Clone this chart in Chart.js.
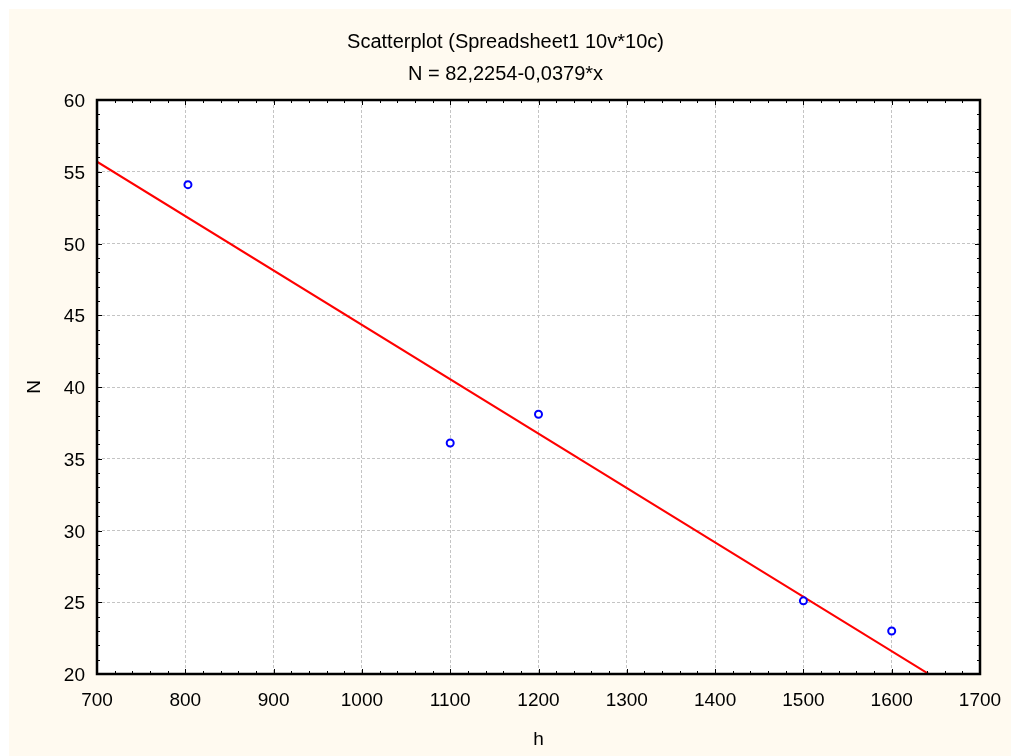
<!DOCTYPE html>
<html>
<head>
<meta charset="utf-8">
<script src="https://cdn.jsdelivr.net/npm/chart.js@4/dist/chart.umd.min.js"></script>
<style>
  html, body { margin: 0; padding: 0; background: #ffffff; }
  #wrap { width: 1011px; height: 756px; }
</style>
</head>
<body>
<div id="wrap"><canvas id="plot" width="1011" height="756"></canvas></div>
<script>
// values
const hValues = [803, 1100, 1200, 1500, 1600];
const nValues = [54.1, 36.1, 38.1, 25.1, 23.0];

// fitted line N = 82,2254-0,0379*x, ends at the x range
const fitH = [700, 1700];
const fitN = [55.7, 17.8];

const titleLines = ["Scatterplot (Spreadsheet1 10v*10c)", "N = 82,2254-0,0379*x"];
const xTicks = [700, 800, 900, 1000, 1100, 1200, 1300, 1400, 1500, 1600, 1700];
const yTicks = [20, 25, 30, 35, 40, 45, 50, 55, 60];

const FONT = "'Liberation Sans', Arial, sans-serif";

// cream panel behind everything
const backdrop = {
  id: "backdrop",
  beforeDraw(chart) {
    const ctx = chart.ctx;
    ctx.save();
    ctx.fillStyle = "#ffffff";
    ctx.fillRect(0, 0, chart.width, chart.height);
    ctx.fillStyle = "#fffaf0";
    ctx.fillRect(9, 9, chart.width - 9, chart.height - 9);
    const a = chart.chartArea;
    ctx.fillStyle = "#ffffff";
    ctx.fillRect(a.left, a.top, a.right - a.left, a.bottom - a.top);
    ctx.restore();
  }
};

// two title lines, frame and the inward ticks
const frame = {
  id: "frame",
  afterDraw(chart) {
    const ctx = chart.ctx;
    const a = chart.chartArea;
    const xs = chart.scales.x, ys = chart.scales.y;
    ctx.save();
    ctx.fillStyle = "#000000";
    ctx.textAlign = "center";
    ctx.textBaseline = "middle";
    ctx.font = "20px " + FONT;
    ctx.fillText(titleLines[0], chart.width / 2, 42);
    ctx.fillText(titleLines[1], chart.width / 2, 74);

    ctx.strokeStyle = "#000000";
    ctx.lineWidth = 1;
    for (let v = 700; v <= 1700; v += 20) {
      const px = Math.round(xs.getPixelForValue(v)) + 0.5;
      const len = (v % 100 === 0) ? 5 : 3;
      ctx.beginPath();
      ctx.moveTo(px, a.bottom); ctx.lineTo(px, a.bottom - len);
      ctx.moveTo(px, a.top); ctx.lineTo(px, a.top + len);
      ctx.stroke();
    }
    for (let v = 20; v <= 60; v += 1) {
      const py = Math.round(ys.getPixelForValue(v)) + 0.5;
      const len = (v % 5 === 0) ? 5 : 3;
      ctx.beginPath();
      ctx.moveTo(a.left, py); ctx.lineTo(a.left + len, py);
      ctx.moveTo(a.right, py); ctx.lineTo(a.right - len, py);
      ctx.stroke();
    }
    ctx.lineWidth = 2.5;
    ctx.strokeRect(a.left, a.top, a.right - a.left, a.bottom - a.top);
    ctx.restore();
  }
};

new Chart(document.getElementById("plot"), {
  type: "scatter",
  data: {
    datasets: [
      {
        label: "N",
        data: hValues.map((h, i) => ({ x: h, y: nValues[i] })),
        pointStyle: "circle",
        pointRadius: 3.5,
        pointBorderWidth: 2,
        pointBorderColor: "#0000ff",
        pointBackgroundColor: "#ffffff",
        order: 0
      },
      {
        type: "line",
        label: "fit",
        data: fitH.map((h, i) => ({ x: h, y: fitN[i] })),
        borderColor: "#ff0000",
        borderWidth: 2,
        pointRadius: 0,
        fill: false,
        order: 1
      }
    ]
  },
  options: {
    responsive: false,
    animation: false,
    events: [],
    layout: { padding: { top: 100, right: 31, left: 0, bottom: 0 } },
    plugins: {
      legend: { display: false },
      title: { display: false },
      tooltip: { enabled: false }
    },
    scales: {
      x: {
        type: "linear",
        min: 700,
        max: 1700,
        afterFit(scale) {
          scale.height = 82;
          scale.paddingLeft = 0;
          scale.paddingRight = 0;
        },
        afterBuildTicks(scale) { scale.ticks = xTicks.map(v => ({ value: v })); },
        ticks: {
          color: "#000000", font: { family: FONT, size: 19 }, padding: 15, maxRotation: 0,
          callback: (v) => String(v)
        },
        grid: { color: "#c4c4c4", lineWidth: 1, drawTicks: false },
        border: { display: false, dash: [3, 2] },
        title: { display: true, text: "h", color: "#000000", font: { family: FONT, size: 19 }, padding: { top: 0, bottom: 5 } }
      },
      y: {
        type: "linear",
        min: 20,
        max: 60,
        afterFit(scale) {
          scale.width = 97;
          scale.paddingTop = 0;
          scale.paddingBottom = 0;
        },
        afterBuildTicks(scale) { scale.ticks = yTicks.map(v => ({ value: v })); },
        ticks: {
          color: "#000000", font: { family: FONT, size: 19 }, padding: 12, labelOffset: 2,
          callback: (v) => String(v)
        },
        grid: { color: "#c4c4c4", lineWidth: 1, drawTicks: false },
        border: { display: false, dash: [3, 2] },
        title: { display: true, text: "N", color: "#000000", font: { family: FONT, size: 19 }, padding: { top: 23, bottom: 0 } }
      }
    }
  },
  plugins: [backdrop, frame]
});
</script>
</body>
</html>
